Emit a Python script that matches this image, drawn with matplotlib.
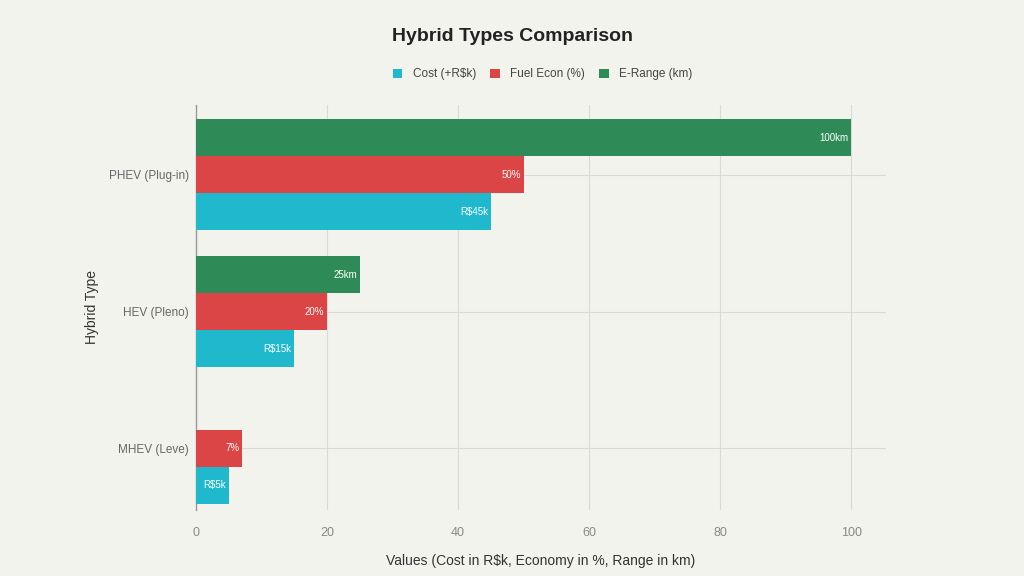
import matplotlib
matplotlib.use("Agg")
import matplotlib.pyplot as plt
import numpy as np

categories = ["MHEV (Leve)", "HEV (Pleno)", "PHEV (Plug-in)"]
cost = [5, 15, 45]
fuel = [7, 20, 50]
erange = [0, 25, 100]
cost_labels = ["R$5k", "R$15k", "R$45k"]
fuel_labels = ["7%", "20%", "50%"]
range_labels = ["", "25km", "100km"]
series_names = ["Cost (+R$k)", "Fuel Econ (%)", "E-Range (km)"]
colors = ["#1FB8CD", "#DB4545", "#2E8B57"]
xticks = [0, 20, 40, 60, 80, 100]

plt.rcParams['font.family'] = ['Liberation Sans', 'DejaVu Sans']
bg = "#F3F3EE"
fig = plt.figure(figsize=(10.24, 5.76), dpi=100, facecolor=bg)
ax = fig.add_axes([0.1914, 0.1146, 0.8652 - 0.1914, 0.8177 - 0.1146], facecolor=bg)

y = np.arange(len(categories))
h = 0.27
offsets = [-h, 0, h]
all_vals = [cost, fuel, erange]
all_labels = [cost_labels, fuel_labels, range_labels]
for vals, labs, off, col, name in zip(all_vals, all_labels, offsets, colors, series_names):
    bars = ax.barh(y + off, vals, height=h, color=col, label=name, zorder=3)
    for b, v, lab in zip(bars, vals, labs):
        if v > 0 and lab:
            ax.text(v - 0.4, b.get_y() + b.get_height() / 2, lab, ha="right", va="center",
                    color="white", fontsize=7, zorder=4)

ax.set_xlim(0, 105.3)
ax.set_ylim(-0.45, 2.51)
ax.set_yticks(y)
ax.set_yticklabels(categories, color="#666666", fontsize=8.5)
ax.set_xticks(xticks)
ax.set_xticklabels([str(t) for t in xticks], color="#888888", fontsize=9)
ax.tick_params(axis="y", length=0, pad=5)
ax.tick_params(axis="x", length=0, pad=12)
ax.grid(True, color="#DADAD5", linewidth=0.8, zorder=0)
for s in ["top", "right", "bottom"]:
    ax.spines[s].set_visible(False)
ax.spines["left"].set_color("#999999")
ax.spines["left"].set_linewidth(1.0)
ax.set_axisbelow(True)

ax.set_xlabel("Values (Cost in R$k, Economy in %, Range in km)", fontsize=10, color="#333333", labelpad=11)
ax.set_ylabel("Hybrid Type", fontsize=10, color="#333333", labelpad=7)

fig.text(0.5, 0.936, "Hybrid Types Comparison", ha="center", va="center", fontsize=14,
         color="#222222", fontweight="bold")

handles, labels = ax.get_legend_handles_labels()
leg = fig.legend(handles, labels, loc="center",
                 bbox_to_anchor=(0.53, 0.871), ncol=3, frameon=False, fontsize=8.5,
                 handlelength=0.8, handleheight=0.8, columnspacing=1.2, handletextpad=0.9)
for t in leg.get_texts():
    t.set_color("#444444")

fig.savefig("out.png", dpi=100, facecolor=bg)
